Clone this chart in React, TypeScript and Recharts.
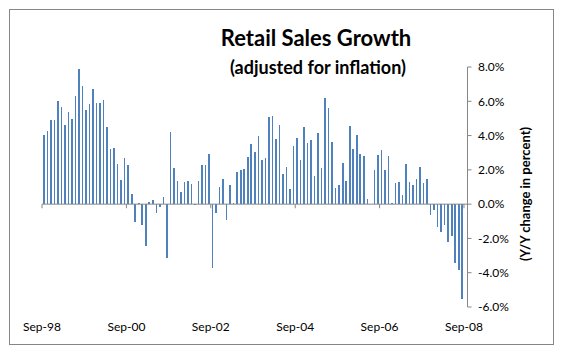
import { Bar, BarChart, ReferenceLine, XAxis, YAxis } from 'recharts';

const MONTH_NAMES = ['Jan', 'Feb', 'Mar', 'Apr', 'May', 'Jun', 'Jul', 'Aug', 'Sep', 'Oct', 'Nov', 'Dec'];
const START_YEAR = 1998;
const START_MONTH = 8; // Sep
const MONTH_COUNT = 121; // Sep-98 .. Sep-08

// Y/Y % change, Sep-98 .. Aug-08
const growth = [
  4.05, 4.28, 4.92, 4.92, 6.03, 5.68, 4.63, 5.39, 4.98, 6.32, 7.9, 6.91,
  5.51, 5.86, 6.73, 5.91, 5.91, 6.09, 4.51, 3.23, 3.29, 2.35, 1.42, 2.7,
  2.3, 0.6, -1.07, 0.06, -1.2, -2.43, 0.14, 0.25, -0.49, -0.14, 0.43, -3.13,
  4.22, 2.12, 1.36, 0.72, 1.3, 1.36, 1.19, -0.06, 1.36, 2.3, 2.3, 2.94,
  -3.72, -0.49, 1.01, 1.48, -0.91, 1.13, 0.06, 1.89, 2.0, 2.06, 2.76, 3.52,
  3.05, 3.99, 2.59, 2.7, 5.1, 5.16, 3.81, 4.63, 1.77, 2.18, 0.89, 3.4,
  3.87, 2.59, 4.51, 3.58, 3.75, 1.65, 4.16, 2.12, 6.21, 5.62, 3.64, 0.95,
  1.13, 2.41, 1.36, 4.57, 3.23, 4.05, 2.94, 2.82, 0.31, 0, 2.0, 2.88,
  3.17, 2.0, 2.82, 0.08, 1.25, 1.3, 0.54, 2.35, 1.3, 1.13, 1.48, 2.18,
  1.25, 1.48, -0.62, -0.33, -1.32, -1.61, -1.21, -2.2, -1.85, -3.46, -3.87, -5.53,
];

const xTickLabels = ['Sep-98', 'Sep-00', 'Sep-02', 'Sep-04', 'Sep-06', 'Sep-08'];
const yTicks = [-6, -4, -2, 0, 2, 4, 6, 8];

const months = Array.from({ length: MONTH_COUNT }, (_, i) => {
  const m = (START_MONTH + i) % 12;
  const y = START_YEAR + Math.floor((START_MONTH + i) / 12);
  return `${MONTH_NAMES[m]}-${String(y % 100).padStart(2, '0')}`;
});

const data = months.map((month, i) => ({ month, growth: growth[i] ?? null }));

const AXIS = '#868686';
const BLUE = '#4F81BD';
const FONT = 'Lato, "Open Sans", sans-serif';

export default function App() {
  return (
    <div style={{ position: 'absolute', left: 0, top: 0, width: 561, height: 353, background: '#fff' }}>
      <div
        style={{
          position: 'absolute',
          left: 9,
          top: 9,
          width: 545,
          height: 336,
          border: `1px solid ${AXIS}`,
          boxSizing: 'border-box',
        }}
      />
      <div style={{ position: 'absolute', left: 0, top: 0 }}>
        <BarChart
          width={561}
          height={353}
          data={data}
          margin={{ top: 67, right: 43.5, bottom: 16, left: 42 }}
          barSize={1.6}
        >
          <XAxis
            dataKey="month"
            interval={23}
            axisLine={false}
            tickLine={false}
            tickSize={0}
            tickMargin={15.5}
            height={30}
            tick={{ fontSize: 12, fill: '#000', fontFamily: FONT, dx: -1.76 }}
          />
          <YAxis
            orientation="right"
            domain={[-6, 8]}
            ticks={yTicks}
            width={50}
            tickFormatter={(v: number) => `${v.toFixed(1)}%`}
            axisLine={{ stroke: AXIS }}
            tickLine={{ stroke: AXIS }}
            tickSize={4}
            tickMargin={6.5}
            tick={{ fontSize: 12, fill: '#000', fontFamily: FONT }}
          />
          <ReferenceLine y={0} stroke={AXIS} />
          {xTickLabels.map((lbl) => (
            <ReferenceLine
              key={lbl}
              segment={[
                { x: lbl, y: 0 },
                { x: lbl, y: -0.24 },
              ]}
              position="start"
              stroke={AXIS}
              ifOverflow="visible"
            />
          ))}
          <Bar dataKey="growth" fill={BLUE} isAnimationActive={false} shapeRendering="crispEdges" />
        </BarChart>
      </div>
      <svg
        width={561}
        height={353}
        style={{ position: 'absolute', left: 0, top: 0, pointerEvents: 'none' }}
        fontFamily={FONT}
        fontWeight="bold"
      >
        <text x={316} y={46} textAnchor="middle" fontSize={22} fill="#000">
          Retail Sales Growth
        </text>
        <text x={318} y={74} textAnchor="middle" fontSize={18} fill="#000">
          (adjusted for inflation)
        </text>
        <text x={530} y={194} textAnchor="middle" fontSize={13} fill="#000" transform="rotate(-90 530 194)">
          (Y/Y change in percent)
        </text>
      </svg>
    </div>
  );
}
